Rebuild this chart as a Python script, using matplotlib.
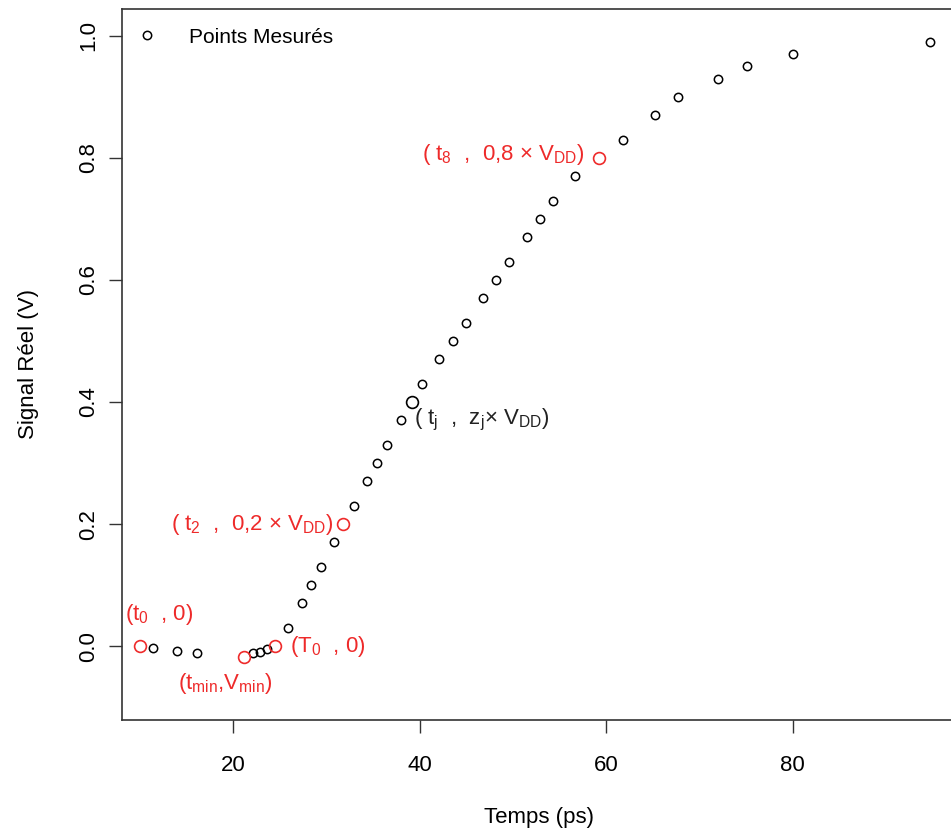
import matplotlib
matplotlib.use("Agg")
import matplotlib.pyplot as plt

plt.rcParams['font.family'] = ['Liberation Sans', 'DejaVu Sans']
plt.rcParams['mathtext.default'] = 'regular'

# measured points (ps, V)
temps = [11.4, 13.9, 16.1, 22.1, 22.8, 23.6, 25.9, 27.3, 28.3, 29.4,
         30.8, 32.9, 34.3, 35.4, 36.5, 38.0, 40.2, 42.1, 43.5, 44.9,
         46.8, 48.2, 49.6, 51.5, 52.9, 54.3, 56.6, 61.8, 65.2, 67.7,
         72.0, 75.1, 80.0, 94.7]
signal = [-0.003, -0.008, -0.011, -0.012, -0.009, -0.005, 0.03, 0.07, 0.10, 0.13,
          0.17, 0.23, 0.27, 0.30, 0.33, 0.37, 0.43, 0.47, 0.50, 0.53,
          0.57, 0.60, 0.63, 0.67, 0.70, 0.73, 0.77, 0.83, 0.87, 0.90,
          0.93, 0.95, 0.97, 0.99]

# characteristic points
rouge_t = [10.0, 21.1, 24.4, 31.75, 59.2]
rouge_v = [0.0, -0.0175, 0.0, 0.20, 0.80]
tj, vj = 39.1, 0.40

fig = plt.figure(figsize=(9.51, 8.31), dpi=100)
ax = fig.add_axes([0.1283, 0.1336, 0.8768, 0.8556])

ax.plot(temps, signal, 'o', mfc='none', mec='black', ms=6, mew=1.1,
        label='Points Mesurés')
ax.plot(rouge_t, rouge_v, 'o', mfc='none', mec='#ee2a2a', ms=8.5, mew=1.2)
ax.plot([tj], [vj], 'o', mfc='none', mec='black', ms=8.5, mew=1.2)

red = '#ee2a2a'
fs = 16
ax.text(8.36, 0.052, '(t$_0$  , 0)', color=red, fontsize=fs, ha='left', va='center')
ax.text(19.1, -0.061, '(t$_{min}$,V$_{min}$)', color=red, fontsize=fs, ha='center', va='center')
ax.text(26.1, 0.0, '(T$_0$  , 0)', color=red, fontsize=fs, ha='left', va='center')
ax.text(30.7, 0.20, '( t$_2$  ,  0,2 × V$_{DD}$)', color=red, fontsize=fs, ha='right', va='center')
ax.text(57.7, 0.805, '( t$_8$  ,  0,8 × V$_{DD}$)', color=red, fontsize=fs, ha='right', va='center')
ax.text(39.4, 0.37, '( t$_j$  ,  z$_j$× V$_{DD}$)', color='#222222', fontsize=fs, ha='left', va='center')

ax.set_xlim(8.04, 97.5)
ax.set_ylim(-0.121, 1.044)
ax.set_xticks([20, 40, 60, 80])
ax.set_yticks([0.0, 0.2, 0.4, 0.6, 0.8, 1.0])
ax.set_yticklabels(['0.0', '0.2', '0.4', '0.6', '0.8', '1.0'], rotation=90, va='center')
ax.tick_params(axis='both', length=9.5, width=1.0, labelsize=16, color='#333333')
ax.tick_params(axis='x', pad=16)
ax.tick_params(axis='y', pad=7)
for s in ax.spines.values():
    s.set_linewidth(1.2)
    s.set_color('#333333')

ax.set_xlabel('Temps (ps)', fontsize=16, labelpad=22)
ax.set_ylabel('Signal Réel (V)', fontsize=16, labelpad=28)

ax.legend(loc='upper left', frameon=False, fontsize=15, handlelength=1.0,
          handletextpad=1.5, borderaxespad=0.5, bbox_to_anchor=(-0.005, 1.0))

fig.savefig('out.png', dpi=100)
